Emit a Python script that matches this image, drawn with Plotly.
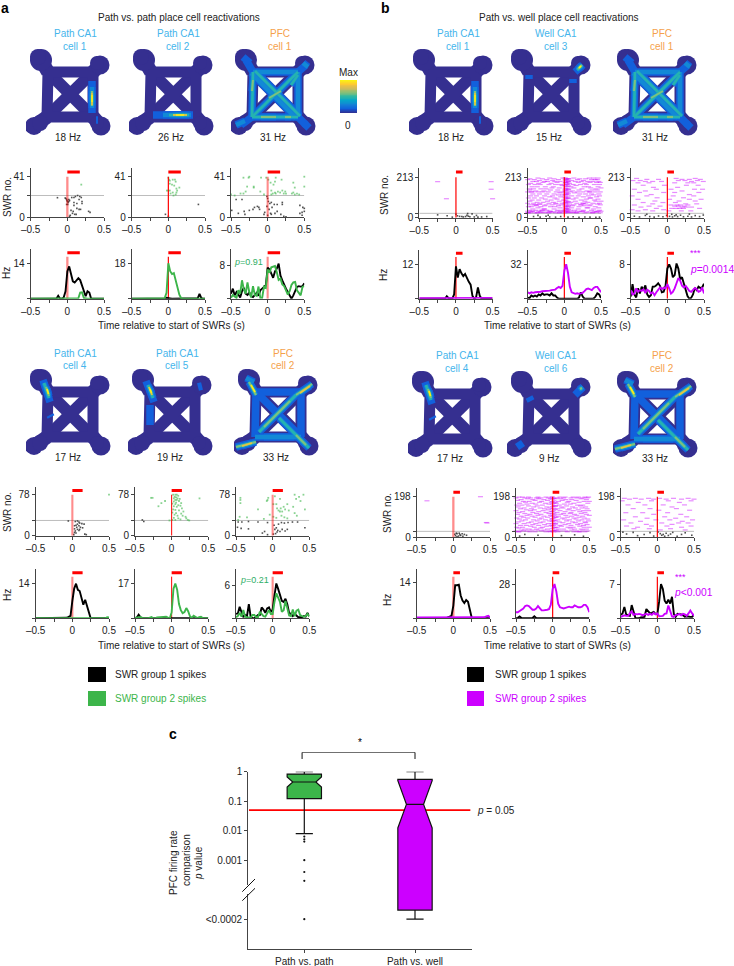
import plotly.graph_objects as go

W, H = 734, 966
FONT = "Liberation Sans"
INK = "#222222"
GREEN = "#3CB54A"
MAGENTA = "#CC00FF"
BLUE_T = "#45B5EC"
ORANGE_T = "#F5A14B"
RED = "#FF0000"

T = [-.5,-.475,-.45,-.425,-.4,-.375,-.35,-.325,-.3,-.275,-.25,-.225,-.2,-.175,-.15,-.125,-.1,-.075,-.05,-.025,
     0,.025,.05,.075,.1,.125,.15,.175,.2,.225,.25,.275,.3,.325,.35,.375,.4,.425,.45,.475,.5]

# ---- firing-rate curves (Hz), one list per panel and group ----
A1_C1_K = [0]*15+[1.2,0,0,.5,3,11,13,10,7,6.5,7.5,8.3,7.5,5.3,2.5,1,3,2.5,0]+[0]*7
A1_C1_G = [0]*26+[.2,2.5,2.6,.3]+[0]*11
A1_C2_K = [0]*19+[.5,.5,.2]+[0]*14+[.2,2.5,.3]+[0]*2
A1_C2_G = [0]*18+[.3,3,18,14,12.5,13,9,5,2,.3]+[0]*13
A1_C3_K = [1.2,2.4,.8,1.6,1,.3,1.8,2.6,1.2,.9,1.5,.6,.4,.8,1.4,.7,2,2.4,2.8,3.2,7.4,7,6,5,6.5,7.2,8.4,5.5,4.4,3.2,2.4,1.6,.6,0,.8,1.8,2.8,3,2.9,3,3.7]
A1_C3_G = [.2,.9,.5,.2,2,1.2,4.4,2.2,1.2,3.9,1.5,.3,3,.9,.7,2.9,.2,.2,2.9,2.6,7,6.2,7.5,7.6,7.8,6.3,4.5,4.8,3.4,3,1.8,1,1.8,3.3,3.9,4,2,1.4,.8,2.8,3]
B1_C1_K = [0]*15+[.9,.2,0,0,1.5,11.5,7.5,10.5,9,8,8.8,7.2,6,5,1,0,.5,4,1,0]+[0]*6
B1_C1_M = [.2]*36+[.2,.2,.3,.3,.3]
B1_C2_K = [1,.5,3,2,3,2,4,3,5,3.5,4,4,3,5,3,3,1,0,0,0,0,0,0,0,0,0,0,0,1,6,2,0,0,0,0,0,.2,2,5,4,.5]
B1_C2_M = [6,5,6,5.5,6,6,6.5,6.5,7,7,7,7,7.5,8,8.5,8.5,10,11,10,12,26,32,24,11,6,5,4.5,5,4.5,5,5.5,7,9,9.5,8.5,8,10,11,11,9,6]
B1_C3_K = [.5,3.4,1,.3,2.4,1.2,2.8,2,3.1,1,.4,.8,2.8,2.8,3.1,3.6,3,1.5,1.6,3,7,8,7,5,5.5,8.2,7,4.5,5,3.5,2,.6,0,.2,1,2.5,2,2.8,2.5,2.6,3.5]
B1_C3_M = [2,1,1.2,2.4,1.6,2,1.8,2.2,1.3,2.1,1.8,1.2,1.5,.8,1.5,2,2.6,2.2,2.6,2.4,3.4,2.4,1.2,1.6,2.4,3.6,4.8,4.2,3,2.6,3,2.4,1.8,1.6,2,2.5,2.2,1.6,1.8,2.6,1.2]
A2_C1_K = [0]*17+[.2,.6,1,7,12,14,11.5,11,8,5.5,7.5,5,1.5,0]+[0]*10
A2_C1_G = [0]*39+[.4,.3]
A2_C2_K = [0,.4,1.8,.5]+[0]*12+[.3]+[0]*24
A2_C2_G = [.2,.4,.6,.6,.2,0,0,0,.5,.6,0,0,.4,.5,.6,.5,.8,.8,.3,0,3,14.5,17,14,7,4,2.5,3,5,3.5,1,.2,1.3,.6,.1,.5,.7,.1,0,0,0]
A2_C3_K = [.8,.9,2.1,.9,.2,.6,.4,2.6,.3,0,0,.3,.6,.6,2,1.6,1,1.8,2,1.2,1.6,4.2,6.4,5.4,4.4,3.2,3,3.6,2.6,1,.8,.4,.8,.4,.2,.2,.2,.4,.3,1,.4]
A2_C3_G = [.2,.4,1,.3,1.5,.3,.2,.2,.1,.6,.6,.2,.2,1.2,.8,.4,.3,1,1.5,.8,.8,3,4.6,3.8,3,1.2,1.5,3.2,1.8,.5,.4,1.6,.4,1.4,1.6,.6,.4,.3,.4,.8,.3]
B2_C1_K = [0]*17+[.4,.8,1,5,13,13,13.2,9,7,6,7.2,6.5,3,.3]+[0]*10
B2_C1_M = [.3]*37+[.4,.8,1,.4]
B2_C2_K = [0,.4,1.5,.3,0,0,0,0,0,.3,1.6,.3]+[0]*29
B2_C2_M = [5,5,6,7,8,10,10.5,10,8,7,7,8,10,8,6.5,6.5,6.5,7,7.5,11,24,28,22,12,9,8.5,8,8.5,9,9.5,9,9,10.5,9.5,9,9,9.5,11,11,9,5]
B2_C3_K = [.7,1,2.3,.8,.6,.5,2.7,1.1,.1,0,0,.2,.3,.3,1.9,1.5,1,1.1,1.3,.9,.8,3.5,7,6,3.6,3,3.8,3,4.4,.9,.3,.9,.9,.8,.6,.3,.4,.3,.3,.3,.8]
B2_C3_M = [.3,.4,.6,.5,.5,1,1.4,.7,.9,.8,.9,.8,.6,.8,.9,.7,.9,.7,1.1,.8,1,.4,.4,.5,.9,1,2.6,1.6,.4,.3,.7,.7,.9,.6,.9,.8,.5,1,1.6,1,.5]

# ---- raster points: (time, SWR number) ----
RA1C1_K = [(-.135,19.8),(-.03,19.5),(-.02,19),(-.01,18),(-.005,17),(0,16),(.01,15),(.02,16),(.03,17),(.005,13),(-.01,13),(.02,18),(.06,20),(.09,20),(.11,21),(.14,22),(.17,21),(.19,20),(.16,18),(.2,16),(.09,15),(.13,14),(.2,14),(.09,12),(.13,9),(.16,8),(.18,8),(.05,7),(.08,6),(.29,6),(.31,5),(.07,4),(.1,3),(.12,3),(.04,2),(.03,1)]
RA1C1_G = [(.19,33)]
RA1C2_K = [(.41,13),(-.04,3),(0,1)]
RA1C2_G = [(0,40),(.01,38),(.02,37),(.06,38),(.09,38),(.1,36),(.02,34),(.05,33),(.08,32),(.15,30),(.11,29),(.02,27),(-.02,27),(0,27),(.06,25),(.11,25),(.12,27),(.03,24),(.1,23),(.07,22)]
RA1C3_K = [(-.43,18),(-.35,18),(-.01,21),(0,19),(.01,16),(.03,14),(.05,15),(.09,13),(.13,13),(.2,13),(.2,15),(-.01,11),(.06,10),(.02,8),(-.14,11),(-.12,10),(-.18,10),(-.11,8),(-.2,8),(-.25,7),(-.04,5),(.04,4),(.05,3),(.1,4),(.13,6),(.18,3),(-.4,4),(-.32,6),(-.31,3),(-.49,7),(-.05,3),(0,2),(.22,1),(.25,.5),(.44,12),(.48,10),(.5,9),(.5,6),(.47,5),(.44,4),(.47,2)]
RA1C3_G = [(-.33,40),(-.26,40),(-.25,41),(-.09,40),(-.02,40),(.01,38),(.11,40),(.1,36),(.19,38),(.5,41),(.04,35),(.35,35),(.37,30),(.5,31),(-.45,22),(-.5,23),(-.33,24),(-.37,24),(-.3,26),(-.19,30),(-.1,26),(-.28,31),(-.19,31),(.05,27),(.1,25),(.05,23),(.07,24),(.11,24),(.14,26),(.17,25),(.2,27),(.22,24),(.24,26),(.25,24),(.33,24),(.35,25),(.37,23),(.4,24),(.43,23),(-.05,23),(.08,33)]
RA2C1_K = [(-.055,28),(.04,27),(.07,28),(.09,26),(.1,24),(.13,23),(.16,22),(.07,22),(.05,20),(.09,19),(.03,19),(.06,16),(.11,16),(.14,15),(.03,13),(.07,12),(.1,12),(.04,9),(.09,10),(.03,6),(.05,5),(.17,3),(.19,2),(.02,2)]
RA2C1_G = [(.5,78)]
RA2C2_K = [(-.38,27),(-.4,30)]
RA2C2_G = [(.02,78),(.05,78),(.07,78),(.09,76),(.04,74),(.06,73),(.03,71),(.08,71),(.11,70),(.05,68),(.07,68),(.1,66),(.03,65),(.06,63),(.13,62),(.01,61),(.05,60),(.09,58),(.12,57),(.03,56),(.07,55),(.14,52),(.02,50),(.05,49),(.1,48),(.16,46),(.01,44),(.06,43),(.13,42),(.04,40),(.08,38),(.15,38),(.19,36),(.03,34),(.09,33),(.2,33),(.22,30),(.12,31),(.01,30),(.24,29),(.05,30),(-.03,29),(-.28,72),(-.26,72),(-.14,62),(-.09,66),(-.18,56),(.38,71)]
RA2C3_K = [(-.47,26),(-.42,26),(-.33,27),(-.2,26),(-.07,25),(-.48,16),(-.43,14),(-.33,13),(-.11,8),(-.14,5),(-.07,2),(.02,20),(.05,15),(.08,22),(.12,25),(.16,24),(.21,25),(.27,26),(.34,26),(.44,15),(.03,12),(.07,10),(.1,8),(.13,12),(.17,9),(.2,12),(.04,4),(.06,7),(.01,3)]
RA2C3_G = [(-.44,72),(-.44,68),(-.44,62),(-.45,36),(-.35,35),(-.2,50),(-.08,66),(-.07,68),(-.06,72),(.01,60),(.03,75),(.05,60),(.06,52),(.1,70),(.11,52),(.1,46),(.08,48),(.13,46),(.15,55),(.17,50),(.2,60),(.3,78),(.32,70),(.36,74),(.38,66),(.42,78),(.44,50),(.3,43),(.33,38),(.12,38),(.16,35),(.2,33),(-.47,30),(-.12,32),(-.04,40),(.01,36),(.05,34),(.22,48),(.28,55)]
RB1C1_K = [(0,18),(.02,10),(.05,7),(.08,6),(.1,4),(.13,6),(.15,12),(.17,8),(.19,5),(.22,20),(.16,22),(.25,4),(.3,3),(.35,4),(-.12,10),(-.25,15),(-.05,3),(.28,12),(.42,6)]
RB1C1_M = [(-.25,190),(.48,190),(.48,150),(.5,100),(-.13,100)]
RB2C1_K = [(.02,15),(.05,18),(.08,20),(.12,17),(.15,14),(.18,10),(.03,8),(.07,6),(.1,9),(.13,5),(.04,20),(.09,13),(.05,3)]
RB2C1_M = [(-.36,178),(.37,198),(.45,72),(.46,70)]

# dense panels: SWR number -> spike times (irregular, streaky rows)
RB1C2_ROWS = {
 26:[-.5,-.49,-.48,-.41,-.37,-.36,-.29,-.22,-.21,-.12,-.07,-.06,.09,.16,.17,.28,.38,.39,.49],
 30:[-.46,-.33,-.32,-.26,-.18,-.15,-.03,.06,.12,.13,.21,.3,.35,.43,.44],
 34:[-.5,-.44,-.43,-.35,-.2,-.19,-.1,-.05,.04,.18,.24,.25,.41,.46,.5],
 39:[-.47,-.39,-.31,-.3,-.24,-.09,-.02,.08,.14,.26,.37,.48],
 46:[-.43,-.28,-.27,-.14,.03,.19,.4],
 52:[-.36,-.06,.1,.31,.32,.47],
 58:[-.49,-.45,-.32,-.19,-.13,.05,.2,.42],
 63:[-.38,-.27,-.08,.11,.27,.34],
 68:[-.46,-.4,-.39,-.25,-.17,-.04,.13,.22,.23,.36,.49],
 72:[-.34,-.33,-.11,.07,.29,.45],
 76:[-.5,-.42,-.21,-.12,-.03,.17,.25,.26,.39,.48],
 81:[-.37,-.29,-.15,.02,.09,.32],
 87:[-.47,-.23,-.07,.15,.28,.43,.5],
 93:[-.44,-.35,-.18,-.01,.23,.41],
 98:[-.26,-.1,.12,.3,.46],
 104:[-.49,-.41,-.31,-.13,.05,.16,.35,.36],
 110:[-.2,-.05,.26,.44],
 115:[-.46,-.38,-.27,-.16,.1,.19,.33,.48],
 120:[-.08,-.02,.4],
 125:[-.43,-.34,-.24,-.14,.03,.21,.29,.37,.47],
 131:[-.06,.14],
 136:[-.5,-.45,-.44,-.36,-.3,-.22,-.11,-.04,.08,.18,.25,.34,.35,.42,.49],
 141:[-.39,-.28,.11,.31],
 146:[-.47,-.19,-.09,.01,.2,.38,.45],
 152:[-.48,-.42,-.32,-.25,.06,.24,.43],
 157:[-.17,-.07,.13,.36,.5],
 163:[-.44,-.37,-.26,-.15,.09,.27,.33,.46],
 170:[-.03,.16],
 175:[-.49,-.4,-.33,-.21,-.12,-.05,.04,.12,.22,.3,.41,.48],
 181:[-.46,-.35,-.18,.07,.28],
 186:[-.29,-.1,.02,.19,.35,.44,.49],
 191:[-.43,-.38,-.27,-.23,-.13,-.06,.05,.15,.23,.32,.39,.47],
 196:[-.34,-.16,.1,.26],
 201:[-.5,-.41,-.24,-.08,.03,.18,.37,.42,.45],
 205:[-.47,-.3,-.14,.06,.21,.29],
 209:[-.36,-.2,-.02,.13,.34,.4,.46],
}
RB1C2_COL = {.012:[25,32,38,45,52,60,68,75,82,90,98,106,114,122,130,138,146,154,162,170,178,186,194,202,210],
             .035:[27,36,48,57,66,78,88,100,110,120,132,142,152,164,176,184,196,206],
             .055:[30,44,63,85,103,126,148,168,190,205]}
RB1C2_K = [(-.42,6),(-.33,3),(-.25,8),(-.2,4),(-.12,3),(-.05,6),(.05,3),(.12,5),(.2,2),(.28,4),(.35,3),(.43,2),(-.36,12),(-.22,13),(.48,3)]
RB1C3_ROWS = {
 207:[-.42,.12,.38],
 202:[-.28,-.12,.2,.3,.45],
 196:[-.47,-.37,.15,.24,.41],
 191:[-.3,-.2,-.08,.33,.49],
 184:[-.4,-.25,.1,.28,.36],
 171:[-.33,-.04,.26,.42],
 160:[-.19,.14],
 150:[-.45,-.15,.05,.37,.48],
 141:[-.3,.2],
 133:[-.38,-.05,.1,.43],
 122:[-.22,.3],
 115:[-.48,-.28,.08,.36],
 105:[-.14,.22],
 97:[-.4,.03,.3,.46],
 88:[-.17,.16,.38],
 80:[-.33,-.06,.11],
 73:[-.2,.25,.4],
 67:[-.45,.05,.13,.18,.28],
 61:[-.25,-.1,.1,.15,.23],
 56:[-.36,.2,.26,.33],
 49:[-.15,.06,.12,.17,.22,.44],
 42:[-.48,-.3,-.05],
 36:[-.4,-.2,.02,.19,.32],
}
RB1C3_K = [(-.45,8),(-.38,4),(-.3,12),(-.24,6),(-.18,3),(-.12,9),(-.06,5),(-.01,12),(.03,7),(.07,4),(.1,10),(.14,6),(.18,13),(.22,5),(.28,8),(.33,4),(.38,11),(.44,6),(.49,14),(-.28,18),(.06,18),(.12,15),(.3,19)]
RB2C2_ROWS = {
 27:[-.47,-.46,-.31,-.24,-.09,-.03,.07,.2,.29,.36,.37,.44],
 31:[-.5,-.4,-.35,-.15,-.05,.11,.18,.33,.48],
 35:[-.43,-.28,-.2,-.12,.05,.26,.41],
 40:[-.38,-.32,-.22,-.07,.08,.15,.3,.39,.46],
 45:[-.46,-.16,.24],
 49:[-.49,-.41,-.25,-.14,.06,.21,.28,.43,.5],
 54:[-.3,-.08,.12,.37],
 58:[-.44,-.36,-.19,-.02,.1,.25,.42],
 62:[-.27,-.11,.17,.34,.47],
 67:[-.5,-.39,-.23,-.06,.04,.22,.38],
 71:[-.33,-.17,.14,.31,.45],
 75:[-.47,-.29,-.13,.09,.27,.44],
 80:[-.42,-.21,-.04,.19,.35,.49],
 85:[-.37,-.26,-.1,.07,.23,.4],
 89:[-.45,-.18,-.01,.16,.32,.48],
 94:[-.49,-.34,-.15,.13,.29,.43],
 98:[-.4,-.24,-.07,.05,.2,.36],
 103:[-.43,-.28,-.12,.08,.26,.41],
 107:[-.35,-.2,-.03,.18,.33,.5],
 112:[-.48,-.31,-.16,.11,.3,.46],
 116:[-.38,-.22,-.05,.15,.24,.39],
 121:[-.46,-.27,-.09,.06,.25,.44],
 125:[-.41,-.19,-.02,.17,.37],
 130:[-.5,-.3,-.13,.1,.28,.42,.49],
 134:[-.36,-.25,-.06,.21,.35],
 139:[-.44,-.29,-.11,.07,.23,.47],
 143:[-.39,-.17,-.04,.14,.31,.4],
 148:[-.47,-.26,-.08,.12,.27,.45],
 153:[-.33,-.21,.04,.19,.38],
 157:[-.49,-.42,-.14,.09,.34,.41],
 162:[-.35,-.23,-.05,.16,.24],
 166:[-.45,-.28,-.1,.05,.29,.48],
 171:[-.37,-.18,-.02,.2,.36],
 175:[-.4,-.32,-.15,.08,.22,.43,.5],
 180:[-.48,-.24,-.07,.13,.32],
 184:[-.43,-.27,-.12,.18,.26,.46],
 188:[-.34,-.19,-.03,.11,.39],
 192:[-.5,-.38,-.3,-.22,-.16,-.06,.06,.15,.25,.33,.41,.47],
 196:[-.46,-.41,-.33,-.2,-.09,-.01,.1,.17,.28,.35,.44,.49],
}
RB2C2_COL = {-.005:[30,42,54,66,78,90,102,114,126,138,150,162,174,186,196],
             .015:[26,34,46,58,70,82,94,106,118,130,142,154,166,178,190],
             .035:[32,48,64,80,98,112,136,152,170,188]}
RB2C2_K = [(-.45,6),(-.38,14),(-.2,10),(.12,8),(.3,12),(.42,5)]
RB2C3_ROWS = {
 190:[-.45,-.3,-.12,.03,.22,.42],
 186:[-.38,-.22,-.05,.12,.33,.5],
 178:[-.48,-.08,.15,.46],
 170:[-.26,.3],
 158:[-.4,-.17,.08,.37],
 148:[.2],
 140:[-.33,-.1,.26],
 132:[.02,.44],
 120:[-.43,-.2,.14],
 112:[-.05,.32],
 100:[-.3,.1,.4],
 93:[-.14,.25],
 85:[-.46,-.02,.17,.48],
 78:[-.23,.34],
 70:[-.36,.06,.29,.42],
 63:[-.15,.2],
 55:[-.42,-.08,.13,.46],
 49:[-.27,.33],
 42:[-.32,-.11,.18],
 36:[.04,.38],
}
RB2C3_K = [(-.47,25),(-.42,16),(-.33,24),(-.27,8),(-.18,14),(-.1,23),(-.05,6),(.01,26),(.04,18),(.06,10),(.08,14),(.1,5),(.12,20),(.15,9),(.18,16),(.21,24),(.27,5),(.33,14),(.38,22),(.47,10)]

def flat(rows):
    return [(x, y) for y, xs in rows.items() for x in xs]
def flatcol(cols):
    return [(x, y) for x, ys in cols.items() for y in ys]

TICK_X = [-.5, -.25, 0, .25, .5]
TICK_XT = ["–0.5", "", "0", "", "0.5"]
PANELS = [
 (30.7,217.3,176.7,168,298.7,249.3,41,22,14,19.9,.17,2.3,RA1C1_K,RA1C1_G,A1_C1_K,A1_C1_G,GREEN),
 (131.7,217.3,176.7,168,298.7,249.3,41,22,18,25.1,.17,1.2,RA1C2_K,RA1C2_G,A1_C2_K,A1_C2_G,GREEN),
 (231,217.3,176.7,168,298.7,249.3,41,22,8,11.8,.17,2.1,RA1C3_K,RA1C3_G,A1_C3_K,A1_C3_G,GREEN),
 (419.3,217.7,177.3,168,298.7,249.7,213,23,12,17.4,.09,1.2,RB1C1_K,RB1C1_M,B1_C1_K,B1_C1_M,MAGENTA),
 (527.7,217.7,177.3,168,298.7,249.7,213,23,32,45.6,.09,1.2,RB1C2_K,flat(RB1C2_ROWS)+flatcol(RB1C2_COL),B1_C2_K,B1_C2_M,MAGENTA),
 (630.7,217.7,177.3,168,298.7,249.7,213,23,8,11.4,.09,1.2,RB1C3_K,flat(RB1C3_ROWS),B1_C3_K,B1_C3_M,MAGENTA),
 (35.7,535.7,494.7,486.7,618.3,569.3,78,29,14,19.8,.14,2.1,RA2C1_K,RA2C1_G,A2_C1_K,A2_C1_G,GREEN),
 (135,535.7,494.7,486.7,618.3,569.3,78,29,17,24,.14,1.0,RA2C2_K,RA2C2_G,A2_C2_K,A2_C2_G,GREEN),
 (236,535.7,494.7,486.7,618.3,569.3,78,29,6,9,.14,2.1,RA2C3_K,RA2C3_G,A2_C3_K,A2_C3_G,GREEN),
 (416.7,537.3,496.7,488.3,618.3,569.3,198,29,14,19.3,.09,2.3,RB2C1_K,RB2C1_M,B2_C1_K,B2_C1_M,MAGENTA),
 (516,537.3,496.7,488.3,618.3,569.3,198,29,28,40,.09,1.2,RB2C2_K,flat(RB2C2_ROWS)+flatcol(RB2C2_COL),B2_C2_K,B2_C2_M,MAGENTA),
 (620.7,537.3,496.7,488.3,618.3,569.3,198,29,7,10,.09,1.2,RB2C3_K,flat(RB2C3_ROWS),B2_C3_K,B2_C3_M,MAGENTA),
]
AX_W = 73.3

# ---- maze geometry and hot spots (maze units = px) ----
SQUARE_X = [22,67,67,21,22]; SQUARE_Y = [27,27,72,72,27]
DIAG_X = [22,67,None,67,21]; DIAG_Y = [27,72,None,27,72]
ARM_X = [22,15,None,67,74,None,21,8,None,67,75]; ARM_Y = [27,15,None,27,20,None,72,81,None,72,81]
WELL_X = [15,74,8,75,12,71,14,71]; WELL_Y = [15,20,81,81,12,18,78,78]; WELL_S = [22,19,18,19,16,14,16,14]
PARULA = [[0,"#352A87"],[.125,"#0F5CDD"],[.25,"#1481D6"],[.375,"#06A4CA"],[.5,"#2EB7A4"],[.625,"#87BF77"],[.75,"#D1BB59"],[.875,"#FEC832"],[1,"#F9FB0E"]]
CBAR_LEVELS = [i/40 for i in range(41)]
HOT_LAYERS = [(.2,7.5,"#1260DC"),(.33,4.5,"#1289D6"),(.48,2.6,"#25B3B0"),(.62,2,"#7FC07E"),(.78,1.6,"#E8C340"),(.95,1.2,"#F9FB0E")]

H_CELL1 = [(66,36,66,68,.28),(66,42,66,63,.4),(66,46,66,61,.7),(66,48,66,60,.8),(66,50,66,57,1),(70,75,72,75,.25)]
H_CELL2 = [(24,70,64,70,.25),(34,70,62,70,.4),(40,70,60,70,.55),(44,70,58,70,.8),(47,70,55,70,1)]
H_PFC1 = [(22,27,67,27,.4),(67,27,67,72,.42),(67,72,21,72,.5),(21,72,22,27,.5),(24,26,69,71,.5),(20,28,65,73,.4),(67,27,21,72,.55),
          (22,27,15,15,.25),(67,27,75,20,.25),(21,72,10,80,.3),(67,72,75,80,.3),(22,35,21,46,.65),(30,72,45,72,.65),(54,72,60,72,.68),
          (38,53,50,46,.7),(12,12,19,18,.3),(72,18,77,22,.35),(5,80,14,76,.35),(73,78,78,83,.3),(60,40,67,30,.6)]
H_CELL3 = [(68,27,76,20,.3),(70,25,75,21,.55),(71,24,75,20,.75),(72,23,74,21,1),(66,34,66,38,.25),(22,30,22,34,.2)]
H_CELL4 = [(17,15,24,37,.3),(18,18,23,33,.5),(20,22,23,31,.75),(21,24,22.5,29,1),(24,50,25,52,.2)]
H_CELL5 = [(18,16,26,37,.28),(20,20,25,33,.5),(21,22,24,30,.8),(22,24,23.5,28,1),(22,40,22,60,.2),(70,22,74,21,.3)]
H_CELL6 = [(68,28,76,20,.24),(72,23,76,20,.45),(73,22,75,21,.7),(10,80,16,76,.22),(22,30,24,34,.2)]
H_PFC2 = [(22,27,67,27,.3),(67,27,67,72,.3),(67,72,21,72,.35),(21,72,22,27,.3),(22,27,67,72,.25),(25,67,62,30,.55),(30,62,56,36,.62),
          (15,17,22,30,.75),(17,20,21,27,1),(62,30,78,19,.7),(66,28,76,21,.85),(2,82,22,77,.7),(8,81,18,78,.88),(45,53,75,83,.5),(62,70,72,80,.75),
          (30,72,60,72,.35),(12,13,20,17,.4)]

MAZES = [
 (26,45,"Path CA1","cell 1",BLUE_T,"18 Hz",H_CELL1),
 (129,45,"Path CA1","cell 2",BLUE_T,"26 Hz",H_CELL2),
 (231,45,"PFC","cell 1",ORANGE_T,"31 Hz",H_PFC1),
 (409,45,"Path CA1","cell 1",BLUE_T,"18 Hz",H_CELL1),
 (507,45,"Well CA1","cell 3",BLUE_T,"15 Hz",H_CELL3),
 (613,45,"PFC","cell 1",ORANGE_T,"31 Hz",H_PFC1),
 (26,365,"Path CA1","cell 4",BLUE_T,"17 Hz",H_CELL4),
 (128,365,"Path CA1","cell 5",BLUE_T,"19 Hz",H_CELL5),
 (234,365,"PFC","cell 2",ORANGE_T,"33 Hz",H_PFC2),
 (408,367,"Path CA1","cell 4",BLUE_T,"17 Hz",H_CELL4),
 (507,367,"Well CA1","cell 6",BLUE_T,"9 Hz",H_CELL6),
 (613,367,"PFC","cell 2",ORANGE_T,"33 Hz",H_PFC2),
]
NAVY = "#352F90"

# ---- box plot statistics, log10(p) positions ----
BOX_X = [1, 2]
BOX_Q1 = [-.915, -4.69]
BOX_MED = [-.35, -1.107]
BOX_Q3 = [-.08, -.26]
BOX_LOW = [-2.10, -5.0]
BOX_UP = [0, 0]
BOX_NOTCH = [.17, .8]
BOX_NW = [.165, .25]
BOX_FILL = [GREEN, MAGENTA]
OUT_X = [1]*7
OUT_Y = [-2.2,-2.29,-2.37,-3.0,-3.4,-3.7,-5.0]
C_TICKS = [0,-1,-2,-3,-5]
C_LABELS = ["1","0.1","0.01","0.001","&lt;0.0002"]
P05 = -1.301
BRACKET_X = [.98,.98,2,2]
BRACKET_Y = [0,1,1,0]
C_NAMES = ["Path vs. path","Path vs. well"]

fig = go.Figure()
layout = {}
shapes, annots = [], []
nax = 0

def new_axes(x0, x1, ytop, ybot, xa=None, ya=None):
    global nax
    nax += 1
    s = "" if nax == 1 else str(nax)
    xd = dict(domain=[x0/W, x1/W], anchor="y"+s, showgrid=False, zeroline=False, automargin=False)
    yd = dict(domain=[1-ybot/H, 1-ytop/H], anchor="x"+s, showgrid=False, zeroline=False, automargin=False)
    xd.update(xa or {}); yd.update(ya or {})
    layout["xaxis"+s] = xd; layout["yaxis"+s] = yd
    return "x"+s, "y"+s

def text(x, y, s, size=10, color=INK, anchor="center", angle=0, bold=False):
    if bold: s = "<b>%s</b>" % s
    annots.append(dict(x=x/W, y=1-y/H, xref="paper", yref="paper", text=s, showarrow=False, xanchor=anchor, yanchor="middle",
                       textangle=angle, font=dict(family=FONT, size=size, color=color), align="center"))

def rect(x0, y0, x1, y1, color):
    shapes.append(dict(type="rect", xref="paper", yref="paper", x0=x0/W, x1=x1/W, y0=1-y0/H, y1=1-y1/H, fillcolor=color, line=dict(width=0)))

def line(x0, y0, x1, y1, color=INK, width=1):
    shapes.append(dict(type="line", xref="paper", yref="paper", x0=x0/W, x1=x1/W, y0=1-y0/H, y1=1-y1/H, line=dict(color=color, width=width)))

AXCOL = "#444444"
def axis_style(vals, labels, **kw):
    d = dict(range=kw.pop("range"), tickmode="array", tickvals=vals, ticktext=labels, showline=True, linecolor=AXCOL, linewidth=1,
             ticks="outside", ticklen=3, tickwidth=1, tickcolor=AXCOL, tickfont=dict(family=FONT, size=10, color=INK))
    d.update(kw)
    return d

HID = dict(visible=False)

for (ox, oy, l1, l2, col, hz, hots) in MAZES:
    xa, ya = new_axes(ox, ox+100, oy, oy+100, dict(range=[0,100], **HID), dict(range=[100,0], **HID))
    fig.add_trace(go.Scatter(x=ARM_X, y=ARM_Y, mode="lines", line=dict(color=NAVY, width=14), xaxis=xa, yaxis=ya, hoverinfo="skip"))
    fig.add_trace(go.Scatter(x=DIAG_X, y=DIAG_Y, mode="lines", line=dict(color=NAVY, width=12), xaxis=xa, yaxis=ya, hoverinfo="skip"))
    fig.add_trace(go.Scatter(x=SQUARE_X, y=SQUARE_Y, mode="lines", line=dict(color=NAVY, width=11), xaxis=xa, yaxis=ya, hoverinfo="skip"))
    fig.add_trace(go.Scatter(x=WELL_X, y=WELL_Y, mode="markers", marker=dict(color=NAVY, size=WELL_S, opacity=1, line=dict(width=0)), xaxis=xa, yaxis=ya, hoverinfo="skip"))
    for thr, wd, c in HOT_LAYERS:
        xs, ys = [], []
        for (x0, y0, x1, y1, lv) in hots:
            if lv >= thr:
                xs += [x0, x1, None]; ys += [y0, y1, None]
        if xs:
            fig.add_trace(go.Scatter(x=xs, y=ys, mode="lines", line=dict(color=c, width=wd), xaxis=xa, yaxis=ya, hoverinfo="skip"))
    cx = ox + 49
    text(cx, oy-12, l1, 10, col)
    text(cx, oy+1, l2, 10, col)
    text(ox+42, oy+92, hz, 10)

xa, ya = new_axes(340, 357, 80, 113, dict(range=[0,1], **HID), dict(range=[0,1], **HID))
fig.add_trace(go.Heatmap(x=[.5], y=CBAR_LEVELS, z=[[v] for v in CBAR_LEVELS], colorscale=PARULA, zmin=0, zmax=1, showscale=False, xaxis=xa, yaxis=ya, hoverinfo="skip"))
text(348.5, 72, "Max", 10); text(348, 125, "0", 10)

for p in PANELS:
    left, r0, rt, rtop, pb, ptop, nmax, split, ptick, pmax, bar, rw, rk, rg, ck, cg, col2 = p
    assert len(ck) == 41 and len(cg) == 41, (left, len(ck), len(cg))
    rmax = (r0-rtop)/(r0-rt)*nmax
    redc = "rgba(255,0,0,0.45)" if rw > 2 else RED
    xa, ya = new_axes(left, left+AX_W, rtop, r0,
                      axis_style(TICK_X, TICK_XT, range=[-.5,.5]),
                      axis_style([0, split, nmax], ["0","",str(nmax)], range=[0,rmax]))
    fig.add_trace(go.Scatter(x=[-.5,.5], y=[split,split], mode="lines", line=dict(color="#BDBDBD", width=1), xaxis=xa, yaxis=ya, hoverinfo="skip"))
    fig.add_trace(go.Scatter(x=[q[0] for q in rk], y=[q[1] for q in rk], mode="markers", cliponaxis=False,
                             marker=dict(symbol="square", size=1.6, color="#333333", opacity=.85, line=dict(width=0)), xaxis=xa, yaxis=ya, hoverinfo="skip"))
    if col2 == MAGENTA:
        mk = dict(symbol="line-ew", size=3.6, opacity=.45, line=dict(color=MAGENTA, width=1.2))
    else:
        mk = dict(symbol="square", size=1.8, color=col2, opacity=.6, line=dict(width=0))
    fig.add_trace(go.Scatter(x=[q[0] for q in rg], y=[q[1] for q in rg], mode="markers", cliponaxis=False,
                             marker=mk, xaxis=xa, yaxis=ya, hoverinfo="skip"))
    fig.add_trace(go.Scatter(x=[0,0], y=[0,nmax], mode="lines", line=dict(color=redc, width=rw), xaxis=xa, yaxis=ya, hoverinfo="skip"))
    fig.add_trace(go.Scatter(x=[0,bar], y=[rmax*.92,rmax*.92], mode="lines", line=dict(color=RED, width=3), xaxis=xa, yaxis=ya, hoverinfo="skip"))
    xa, ya = new_axes(left, left+AX_W, ptop, pb,
                      axis_style(TICK_X, TICK_XT, range=[-.5,.5]),
                      axis_style([0, ptick], ["",str(ptick)], range=[0,pmax]))
    fig.add_trace(go.Scatter(x=[0,0], y=[0,pmax*.85], mode="lines", line=dict(color=redc, width=rw), xaxis=xa, yaxis=ya, hoverinfo="skip"))
    fig.add_trace(go.Scatter(x=[0,bar], y=[pmax*.93,pmax*.93], mode="lines", line=dict(color=RED, width=3), xaxis=xa, yaxis=ya, hoverinfo="skip"))
    fig.add_trace(go.Scatter(x=T, y=ck, mode="lines", cliponaxis=False, line=dict(color="#000000", width=1.9), xaxis=xa, yaxis=ya, hoverinfo="skip"))
    fig.add_trace(go.Scatter(x=T, y=cg, mode="lines", cliponaxis=False, line=dict(color=col2, width=1.9), xaxis=xa, yaxis=ya, hoverinfo="skip"))

x_u = (415-304.3)
C_RANGE = [1-(304.3-248.3)/x_u, 2+(472.3-415)/x_u]
xa, ya = new_axes(248.3, 472.3, 771.7, 948.7,
                  axis_style(BOX_X, C_NAMES, range=C_RANGE, linewidth=1.2),
                  axis_style(C_TICKS, C_LABELS, range=[-6,0], linewidth=1.2))
for i in range(2):
    fig.add_trace(go.Box(x=[BOX_X[i]], q1=[BOX_Q1[i]], median=[BOX_MED[i]], q3=[BOX_Q3[i]], lowerfence=[BOX_LOW[i]], upperfence=[BOX_UP[i]],
                         notchspan=[BOX_NOTCH[i]], notched=True, notchwidth=BOX_NW[i], width=.31, whiskerwidth=.5, boxpoints=False,
                         fillcolor=BOX_FILL[i], line=dict(color="#111111", width=1.2), xaxis=xa, yaxis=ya, hoverinfo="skip"))
fig.add_trace(go.Scatter(x=OUT_X, y=OUT_Y, mode="markers", marker=dict(color="#111111", size=2.2), xaxis=xa, yaxis=ya, hoverinfo="skip"))
shapes.append(dict(type="line", xref=xa, yref=ya, x0=.5, x1=2.5, y0=P05, y1=P05, layer="below", line=dict(color=RED, width=1.6)))
xb, yb = new_axes(248.3, 472.3, 752.3, 759, dict(range=C_RANGE, **HID), dict(range=[0,1], **HID))
fig.add_trace(go.Scatter(x=BRACKET_X, y=BRACKET_Y, mode="lines", cliponaxis=False, line=dict(color="#111111", width=1), xaxis=xb, yaxis=yb, hoverinfo="skip"))
rect(245, 885, 252, 894, "#FFFFFF")
line(242.3, 891.7, 255, 879, "#111111", 1)
line(242.3, 900.7, 255, 888.3, "#111111", 1)
text(360, 742, "*", 10, "#000000")
text(475, 810, "<i>p</i> = 0.05", 10, anchor="left")
text(173, 863, "PFC firing rate", 10, angle=-90)
text(186, 860, "comparison", 10, angle=-90)
text(198, 863, "<i>p</i> value", 10, angle=-90)

text(179, 17, "Path vs. path place cell reactivations")
text(559, 17, "Path vs. well place cell reactivations")
text(5, 8, "a", 14, "#000000", bold=True)
text(385, 8, "b", 14, "#000000", bold=True)
text(173, 734, "c", 14, "#000000", bold=True)
for cx, yy in ((171, 325), (557, 325), (171, 645), (557, 645)):
    text(cx, yy, "Time relative to start of SWRs (s)")
for x, ys, yh in ((7, 197, 273), (384, 195, 275), (7, 512, 595), (387, 513, 600)):
    text(x, ys, "SWR no.", 10, angle=-90)
    text(x, yh, "Hz", 10, angle=-90)
text(248, 261.7, "<i>p</i>=0.91", 9, "#2EAE66")
text(254, 580, "<i>p</i>=0.21", 9, "#2EAE66")
text(695, 253, "***", 9, MAGENTA)
text(712, 269, "<i>p</i>=0.0014", 10.3, MAGENTA)
text(680, 577, "***", 9, MAGENTA)
text(693, 592, "<i>p</i>&lt;0.001", 10.3, MAGENTA)

rect(88, 667, 106, 682, "#000000"); text(113, 674, "SWR group 1 spikes", anchor="left")
rect(88, 691, 106, 706, GREEN); text(113, 698, "SWR group 2 spikes", 10, GREEN, anchor="left")
rect(467, 667, 484, 682, "#000000"); text(493, 674, "SWR group 1 spikes", anchor="left")
rect(467, 691, 484, 706, MAGENTA); text(493, 698, "SWR group 2 spikes", 10, MAGENTA, anchor="left")

fig.update_layout(width=W, height=H, autosize=False, margin=dict(l=0, r=0, t=0, b=0, pad=0), showlegend=False, boxmode="overlay",
                  plot_bgcolor="white", paper_bgcolor="white", shapes=shapes, annotations=annots, hovermode=False,
                  font=dict(family=FONT), **layout)
fig.write_html("out.html", config=dict(displayModeBar=False, responsive=False),
               post_script="document.body.style.margin='0';document.documentElement.style.overflow='hidden';")
